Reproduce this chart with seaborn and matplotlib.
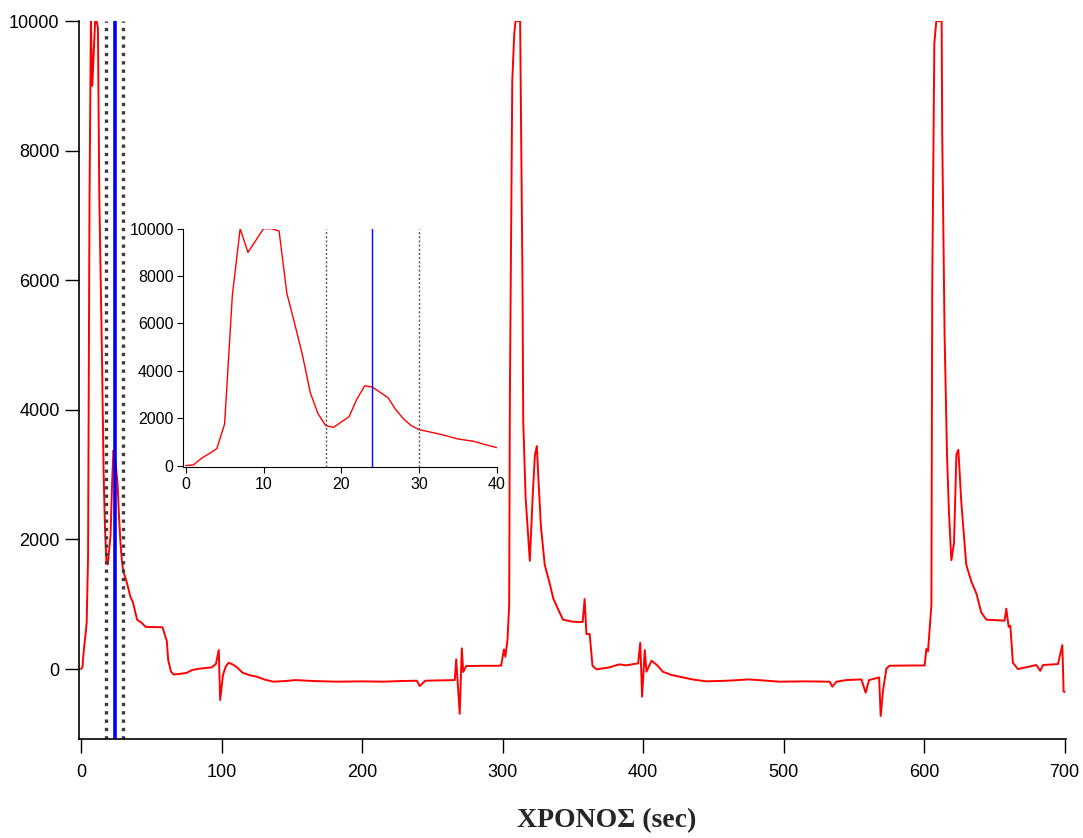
import numpy as np
import pandas as pd
import matplotlib
matplotlib.use("Agg")
import matplotlib.pyplot as plt
import seaborn as sns

# time (sec) and signal values
t = [0, 1, 2, 3, 4, 5, 6, 7, 8, 9, 10, 11, 12, 13, 14, 15, 16, 17, 18, 19, 20,
     21, 22, 23, 24, 25, 26, 27, 28, 29, 30, 31, 32, 33, 34, 35, 36, 37, 38, 39, 40,
     43, 46, 58, 60, 61, 62, 64, 66, 70, 75, 79, 84, 93, 96, 98, 99, 101, 103, 105,
     108, 111, 115, 120, 125, 131, 137, 145, 153, 165, 182, 200, 215, 228, 239, 241,
     245, 266, 267, 269.5, 271, 272, 274, 285, 296, 299, 301, 302, 303.5, 304.7,
     305.2, 306.9, 308.3, 309.2, 312.5, 314.2, 314.7, 316.4, 319.4, 321.5, 323,
     324.4, 325.5, 327.3, 330, 333.6, 336, 339, 343, 350, 357, 358.4, 359.7, 362,
     364, 367, 376, 383, 388, 396.5, 398, 399.3, 401.2, 402.4, 406, 410, 414, 420,
     426, 435, 445, 460, 475, 485, 497, 515, 532.8, 534.7, 537.6, 544.7, 555.4,
     558.4, 560.8, 568, 569.1, 570.8, 573.2, 575.5, 590, 600.4, 601.6, 602.8, 605.2,
     605.8, 607.3, 608.7, 612.5, 612.9, 614.6, 616.3, 617.7, 619.4, 621.3, 623,
     624.4, 626.5, 630, 633.6, 637.2, 640.7, 644.3, 657.3, 658.5, 660.2, 661.4,
     663.2, 666.8, 679.9, 682.7, 684.6, 695.3, 698.4, 699.3, 700]
v = [0, 30, 300, 500, 716, 1755, 7200, 10000, 9000, 9500, 10000, 10000, 9900, 7270,
     6000, 4675, 3090, 2190, 1685, 1615, 1840, 2064, 2808, 3370, 3313, 3090, 2864,
     2360, 1966, 1685, 1516, 1446, 1376, 1300, 1210, 1123, 1075, 1025, 930, 840, 758,
     716, 650, 645, 500, 440, 140, -40, -85, -75, -60, -15, 5, 26, 80, 293, -478, -93,
     40, 98, 70, 26, -57, -95, -118, -165, -195, -185, -170, -185, -195, -190, -195,
     -185, -180, -262, -180, -170, 150, -690, 320, -46, 46, 50, 50, 55, 304, 190, 450,
     990, 4200, 9070, 9800, 10000, 10000, 5900, 3830, 2645, 1670, 2700, 3300, 3440,
     2940, 2200, 1610, 1316, 1095, 946, 762, 730, 725, 1080, 540, 540, 50, -5, 26, 72,
     57, 88, 406, -427, 293, -41, 128, 60, -41, -90, -118, -160, -190, -180, -160,
     -175, -195, -190, -195, -272, -195, -170, -160, -365, -170, -129, -725, -324, 10,
     51, 55, 55, 310, 275, 983, 5890, 9660, 10000, 10000, 8256, 5155, 3310, 2420,
     1680, 1945, 3310, 3383, 2570, 1611, 1353, 1168, 873, 762, 747, 932, 651, 667, 97,
     0, 62, -28, 62, 77, 370, -346, -355]

window = [18, 30]    # dotted markers
center = 24          # blue marker
main_xticks = [0, 100, 200, 300, 400, 500, 600, 700]
main_yticks = [0, 2000, 4000, 6000, 8000, 10000]
inset_xticks = [0, 10, 20, 30, 40]

df = pd.DataFrame({"t": t, "v": v})
df_zoom = df[df["t"] <= 40]

sns.set_style("ticks")
plt.rcParams["font.family"] = ["Liberation Sans", "DejaVu Sans"]

fig = plt.figure(figsize=(10.83, 8.38), dpi=100)
ax = fig.add_axes([0.0729, 0.1181, 0.9114, 0.8568])

sns.lineplot(data=df, x="t", y="v", color="#ff0000", linewidth=1.4, ax=ax)
for w in window:
    ax.axvline(w, color="#3c3c3c", linewidth=2.4, linestyle=(0, (1, 1.5)))
ax.axvline(center, color="#0000ff", linewidth=2.6)

ax.set_xlim(-1.5, 701)
ax.set_ylim(-1080, 10000)
ax.set_xticks(main_xticks)
ax.set_yticks(main_yticks)
ax.set_xlabel("")
ax.set_ylabel("")
ax.tick_params(axis="both", labelsize=13, length=10, width=1, color="black",
               labelcolor="black", direction="out")
ax.tick_params(axis="x", pad=8)
ax.tick_params(axis="y", pad=4)
sns.despine(ax=ax)
for s in ["left", "bottom"]:
    ax.spines[s].set_color("black")
    ax.spines[s].set_linewidth(1.2)

fig.text(0.5605, 0.0203, "ΧΡΟΝΟΣ (sec)", ha="center", va="center",
         fontsize=20, fontweight="bold", family=["Liberation Serif", "DejaVu Serif"])

# inset with the first 40 seconds
axi = fig.add_axes([0.1693, 0.4427, 0.2896, 0.2844])
sns.lineplot(data=df_zoom, x="t", y="v", color="#ff0000", linewidth=1.0, ax=axi)
for w in window:
    axi.axvline(w, color="#555555", linewidth=1.0, linestyle=(0, (1.5, 1.5)))
axi.axvline(center, color="#0000ff", linewidth=1.0)
axi.set_xlim(-0.3, 40)
axi.set_ylim(-60, 10000)
axi.set_xticks(inset_xticks)
axi.set_yticks(main_yticks)
axi.set_xlabel("")
axi.set_ylabel("")
axi.patch.set_alpha(0)
axi.tick_params(axis="both", labelsize=11.5, length=4, width=0.8, color="black",
                labelcolor="black", pad=3)
sns.despine(ax=axi)
for s in ["left", "bottom"]:
    axi.spines[s].set_color("black")
    axi.spines[s].set_linewidth(0.8)

fig.savefig("out.png", dpi=100)
